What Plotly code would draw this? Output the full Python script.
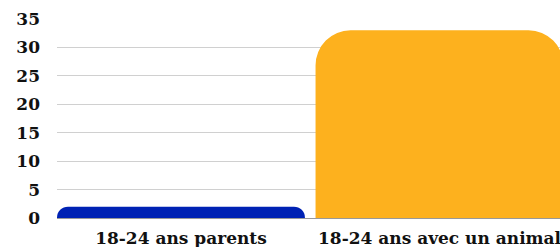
import plotly.graph_objects as go

categories = ["18-24 ans parents", "18-24 ans avec un animal"]
values = [2, 33]
colors = ["#0022B4", "#FDB11E"]
y_ticks = [0, 5, 10, 15, 20, 25, 30, 35]

font_family = "DejaVu Serif"

fig = go.Figure(go.Bar(
    x=categories,
    y=values,
    marker=dict(color=colors, line=dict(width=0)),
    width=0.959,
))

fig.update_layout(
    width=560, height=247,
    margin=dict(l=57, r=0, t=19, b=29),
    paper_bgcolor="white",
    plot_bgcolor="white",
    barcornerradius=35,
    showlegend=False,
    font=dict(family=font_family, color="#111111"),
)
fig.update_xaxes(
    range=[-0.4795, 1.466],
    showgrid=False,
    showline=False,
    automargin=False,
    tickfont=dict(family=font_family, size=17, weight="bold", color="#111111"),
    ticklabelstandoff=8,
    ticks="",
)
fig.update_yaxes(
    range=[0, 35],
    tickvals=y_ticks,
    showgrid=True,
    gridcolor="#D0D0D0",
    gridwidth=1,
    zeroline=True,
    zerolinecolor="#999999",
    zerolinewidth=1,
    automargin=False,
    tickfont=dict(family=font_family, size=17, weight="bold", color="#111111"),
    ticklabelstandoff=16,
    ticks="",
)

fig.write_html(
    "out.html",
    config={"displayModeBar": False},
    post_script="document.body.style.margin='0';document.body.style.overflow='hidden';",
)
